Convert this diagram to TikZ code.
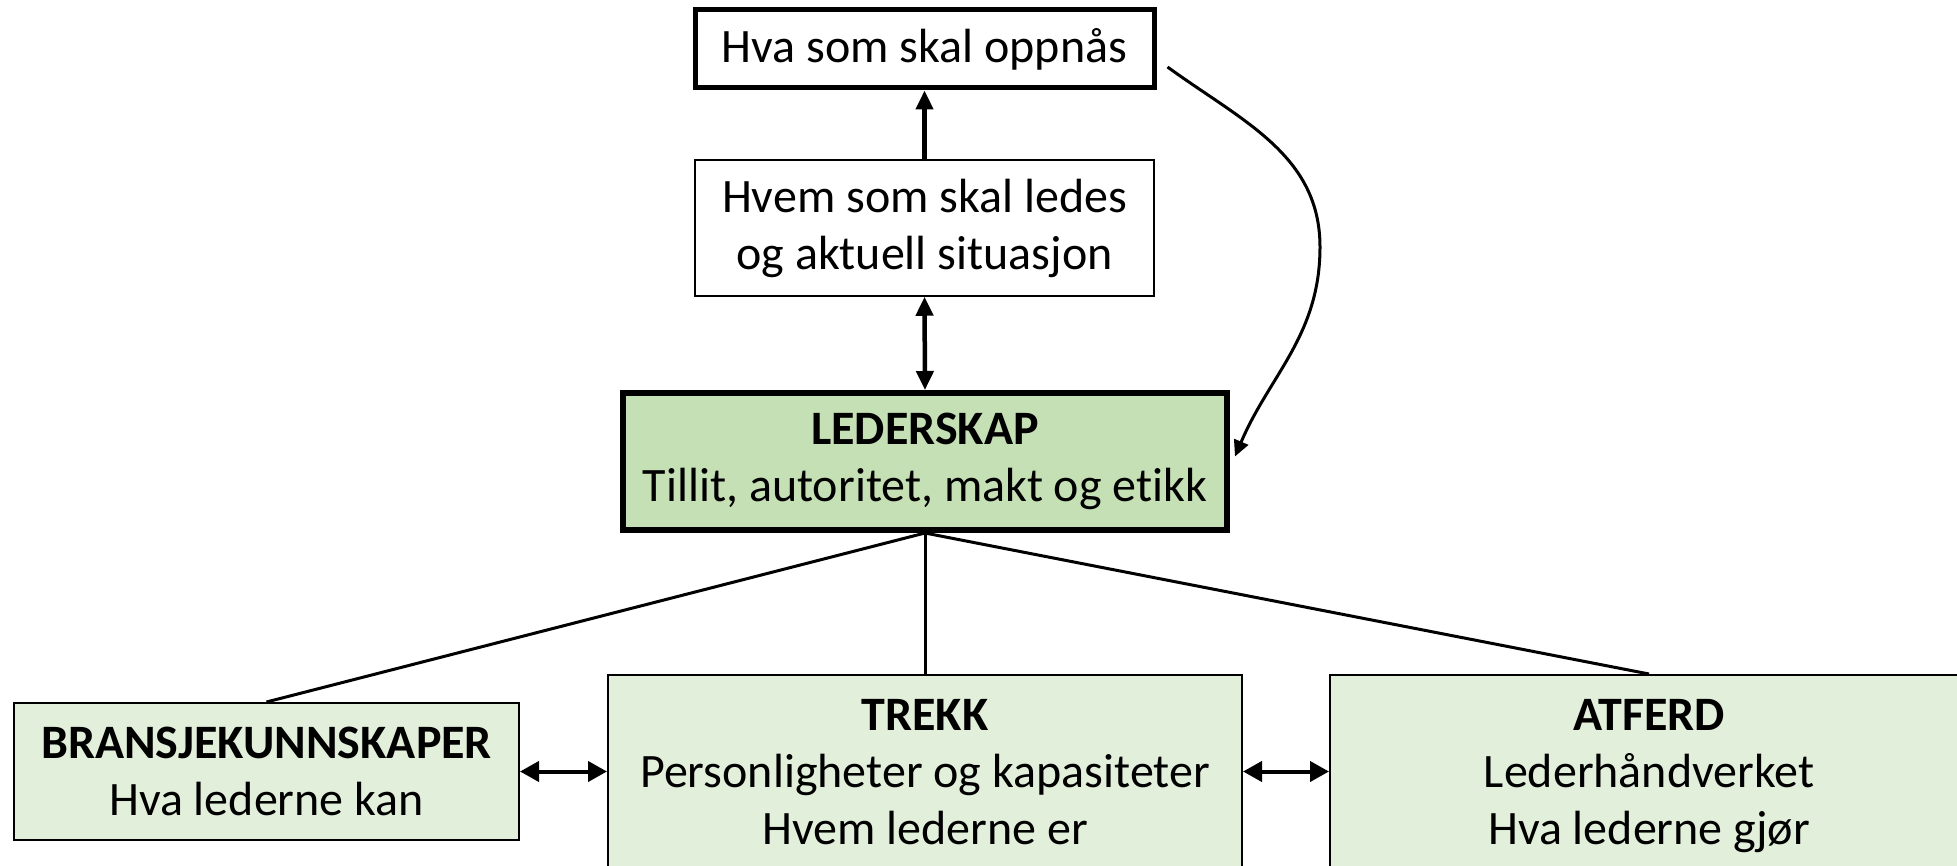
\documentclass[tikz,border=0pt]{standalone}
\usepackage{fontspec}
\setmainfont{Carlito}[Ligatures=NoCommon]
\usetikzlibrary{arrows.meta}
\definecolor{leadgreen}{HTML}{C5E0B4}
\definecolor{lightgreen}{HTML}{E2EFDA}
\begin{document}
\begin{tikzpicture}[x=1pt,y=1pt,
  every node/.style={font=\fontsize{48}{57}\selectfont, align=center, inner sep=0pt},
  boxnode/.style={draw=black, rectangle},
  conn/.style={draw=black, line width=3pt},
  bigtip/.style={-{Triangle[length=19pt,width=17pt]}},
  dbltip/.style={{Triangle[length=19pt,width=20pt]}-{Triangle[length=19pt,width=20pt]}},
]
\useasboundingbox (0,0) rectangle (1957,-866);
\fill[white] (0,0) rectangle (1957,-866);

\node[boxnode, line width=5pt, minimum width=459pt, minimum height=78pt] (top) at (924.5,-49) {Hva som skal oppnås};
\node[boxnode, line width=1.5pt, minimum width=459pt, minimum height=136pt] (mid) at (924.5,-228) {Hvem som skal ledes\\og aktuell situasjon};
\node[boxnode, line width=6pt, fill=leadgreen, minimum width=604pt, minimum height=137pt] (lead) at (925,-461.5) {\textbf{LEDERSKAP}\\Tillit, autoritet, makt og etikk};
\node[boxnode, line width=2pt, fill=lightgreen, minimum width=505pt, minimum height=137pt] (bran) at (266.5,-771.5) {\textbf{BRANSJEKUNNSKAPER}\\Hva lederne kan};
\node[boxnode, line width=2pt, fill=lightgreen, minimum width=634pt, minimum height=202pt] (trekk) at (925,-776) {\textbf{TREKK}\\Personligheter og kapasiteter\\Hvem lederne er\vphantom{gj}};
\node[boxnode, line width=2pt, fill=lightgreen, minimum width=638pt, minimum height=202pt] (atferd) at (1649,-776) {\textbf{ATFERD}\\Lederhåndverket\\Hva lederne gjør};

\draw[conn, line width=4.5pt, bigtip] (mid.north) -- (top.south);
\draw[conn, line width=4.5pt, {Triangle[length=19pt,width=17pt]}-{Triangle[length=19pt,width=17pt]}] (mid.south) -- (lead.north);

\draw[conn] (lead.south) -- (bran.north);
\draw[conn] (lead.south) -- (trekk.north);
\draw[conn] (lead.south) -- (atferd.north);

\draw[conn, line width=4pt, dbltip] (bran.east) -- (bran.east -| trekk.west);
\draw[conn, line width=4pt, dbltip] (trekk.east |- bran.east) -- (atferd.west |- bran.east);

\coordinate (cs) at ([xshift=11pt,yshift=-18pt]top.east);
\coordinate (cb) at (1320,-247);
\coordinate (ce) at ([xshift=5pt,yshift=5pt]lead.east);
\draw[conn, line width=3pt, -{Triangle[length=16pt,width=15pt]}] (cs) to[out=-36,in=90] (cb) to[out=-90,in=67] (ce);
\end{tikzpicture}
\end{document}
